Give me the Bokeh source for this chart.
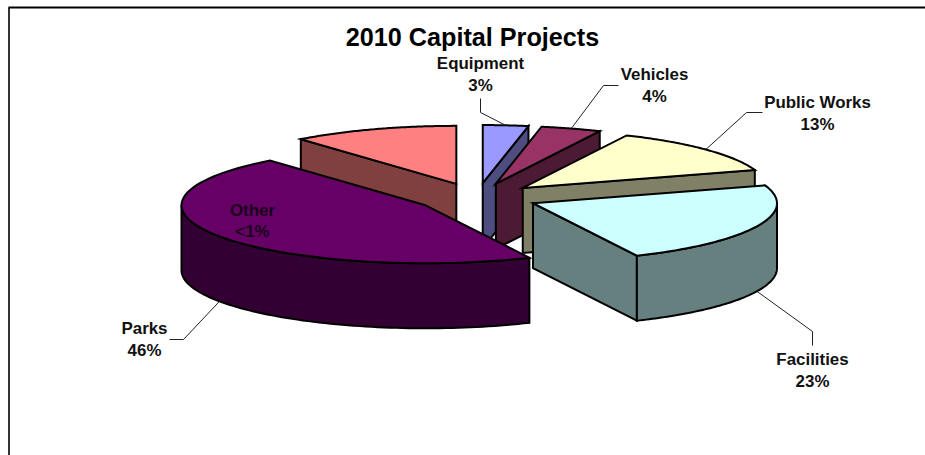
import numpy as np
from bokeh.embed import file_html
from bokeh.models import Range1d
from bokeh.plotting import figure
from bokeh.resources import INLINE
from bokeh.core.properties import value

# Slices run clockwise from twelve o'clock; the last one carries no label of its own.
categories = ["Equipment", "Vehicles", "Public Works", "Facilities", "Parks", ""]
percents = [3, 4, 13, 23, 46, 11]
top_colors = ["#9999FF", "#993366", "#FFFFCC", "#CCFFFF", "#660066", "#FF8080"]
side_colors = ["#4D4D80", "#4D1A33", "#808066", "#668080", "#330033", "#804040"]
other_label = ("Other", "<1%")

# Projection of the tilted pie, in page pixels
CX, CY = 476.5, 197.0
RX, RY = 244.0, 58.0
DEPTH = 65.0
EXPLODE = 0.25

FONT = "Liberation Sans"
LABEL_SIZE = "16.9px"
LINE = 2.0

# Back-to-front painting order: the unlabelled slice sits behind everything
paint_order = [5, 0, 1, 2, 3, 4]

# Label centre and the elbow(s) of its leader, walking from the label to the slice
label_layout = {
    "Equipment": ((480, 63), [(480, 98), (480, 112)]),
    "Vehicles": ((654, 74), [(618, 85), (603, 85)]),
    "Public Works": ((817, 102), [(762, 112), (746, 112)]),
    "Facilities": ((812, 359), [(812, 345), (812, 331)]),
    "Parks": ((144, 328), [(169, 339), (183, 339)]),
}


def rim_points(x0, y0, a0, a1, steps=80):
    """Rim of an ellipse between two clockwise angles measured from the top."""
    t = np.radians(np.linspace(a0, a1, steps))
    return x0 + RX * np.sin(t), y0 - RY * np.cos(t)


p = figure(
    width=925, height=455, output_backend="svg", toolbar_location=None,
    x_range=Range1d(0, 925), y_range=Range1d(455, 0),
    min_border=0, outline_line_color=None, background_fill_color="white",
)
p.axis.visible = False
p.grid.visible = False

# Chart-area frame: only the top and left edges fall inside the page
p.line([8.5, 8.5], [7, 455], line_color="#333333", line_width=2)
p.line([8, 925], [7, 7], line_color="black", line_width=2)

totals = np.cumsum([0] + percents) * 3.6
anchors = {}

for i in paint_order:
    name = categories[i]
    a0, a1 = totals[i], totals[i + 1]
    mid = np.radians((a0 + a1) / 2)
    ax = CX + EXPLODE * RX * np.sin(mid)
    ay = CY - EXPLODE * RY * np.cos(mid)

    style = dict(fill_color=side_colors[i], line_color="black",
                 line_width=LINE, line_join="miter")

    # Radial walls that face the viewer
    for edge, visible in ((a0, np.sin(np.radians(a0)) < -1e-6),
                          (a1, np.sin(np.radians(a1)) > 1e-6)):
        if visible:
            ex = ax + RX * np.sin(np.radians(edge))
            ey = ay - RY * np.cos(np.radians(edge))
            p.patch([ax, ex, ex, ax], [ay, ey, ey + DEPTH, ay + DEPTH], **style)

    # Curved outer wall, limited to the front half of the ellipse
    f0, f1 = max(a0, 90), min(a1, 270)
    if f1 > f0:
        wx, wy = rim_points(ax, ay, f0, f1)
        p.patch(np.r_[wx, wx[::-1]], np.r_[wy, wy[::-1] + DEPTH], **style)

    # Top face
    tx, ty = rim_points(ax, ay, a0, a1)
    p.patch(np.r_[ax, tx], np.r_[ay, ty], fill_color=top_colors[i],
            line_color="black", line_width=LINE, line_join="miter")

    rim_x = ax + RX * np.sin(mid)
    rim_y = ay - RY * np.cos(mid)
    if np.cos(mid) < 0:
        rim_y += DEPTH
    anchors[name] = (rim_x, rim_y)

# Leaders and data labels
for i, name in enumerate(categories):
    if not name:
        continue
    (lx, ly), elbows = label_layout[name]
    xs = [e[0] for e in elbows] + [anchors[name][0]]
    ys = [e[1] for e in elbows] + [anchors[name][1]]
    p.line(xs, ys, line_color="#222222", line_width=1)
    p.text([lx, lx], [ly, ly + 21.5], text=[name, f"{percents[i]}%"],
           text_font=value(FONT), text_font_style="bold", text_font_size=LABEL_SIZE,
           text_color="#111111", text_align="center", text_baseline="middle")

p.text([252, 252], [210, 231], text=list(other_label),
       text_font=value(FONT), text_font_style="bold", text_font_size=LABEL_SIZE,
       text_color="#1A001A", text_align="center", text_baseline="middle")

p.text([472], [36], text=["2010 Capital Projects"],
       text_font=value(FONT), text_font_style="bold", text_font_size="25.2px",
       text_color="black", text_align="center", text_baseline="middle")

open("out.html", "w").write(file_html(p, INLINE))
